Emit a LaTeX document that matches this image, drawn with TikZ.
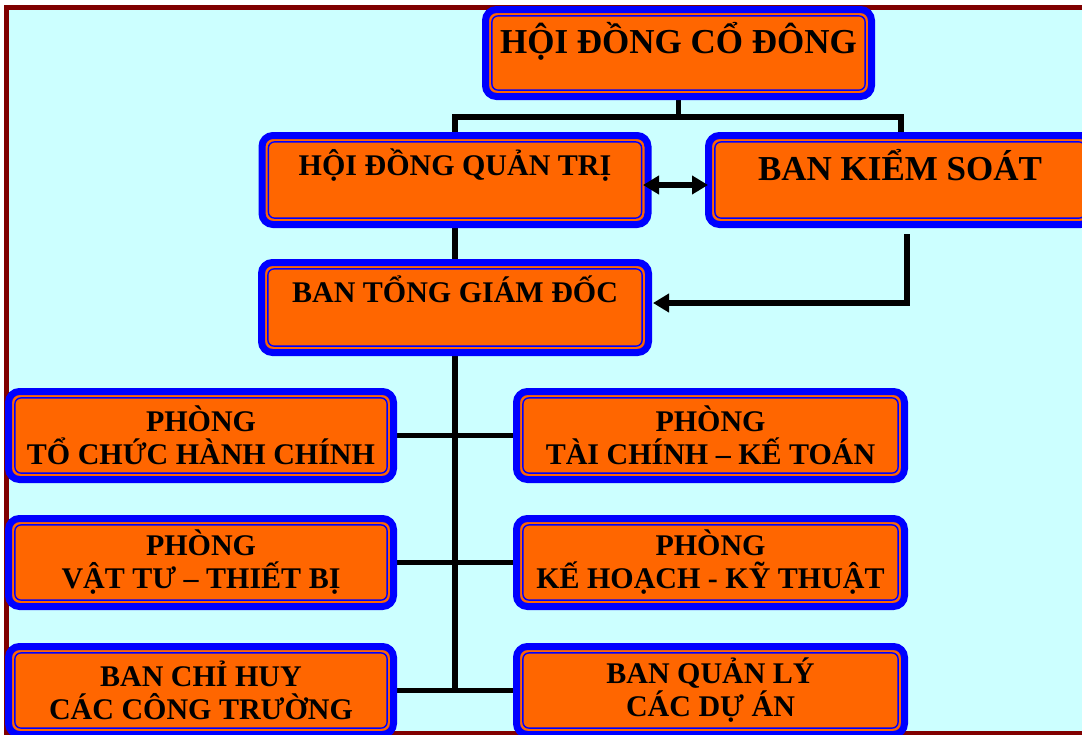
\documentclass[tikz,border=0pt]{standalone}
\usepackage{fontspec}
\setmainfont{Liberation Serif}
\usetikzlibrary{arrows.meta}
\definecolor{bgcyan}{HTML}{CCFFFF}
\definecolor{framered}{HTML}{800000}
\definecolor{boxorange}{HTML}{FF6600}
\definecolor{boxblue}{HTML}{0000FF}
\pgfdeclarelayer{bg}
\pgfdeclarelayer{fr}
\pgfsetlayers{fr,bg,main}
\tikzset{
  orgbox/.style={draw=boxblue, line width=7pt, fill=boxorange, rounded corners=11pt,
    inner sep=0pt, align=center, font=\bfseries\fontsize{30}{33}\selectfont,
    path picture={\draw[boxblue, line width=1.4pt, rounded corners=6pt]
      ([shift={(6.4pt,6.4pt)}]path picture bounding box.south west) rectangle
      ([shift={(-6.4pt,-6.4pt)}]path picture bounding box.north east);}},
  topbox/.style={orgbox, minimum width=386pt, minimum height=88pt},
  leftbox/.style={orgbox, minimum width=385pt, minimum height=88pt},
  rightbox/.style={orgbox, minimum width=388pt, minimum height=88pt},
  conn/.style={draw=black, line width=5.5pt, line join=miter},
  arr/.style={conn, -{Triangle[length=16pt,width=18pt]}},
  darr/.style={conn, {Triangle[length=16pt,width=18pt]}-{Triangle[length=16pt,width=18pt]}}
}
\begin{document}
\begin{tikzpicture}[x=1pt,y=-1pt]
\useasboundingbox (0,0) rectangle (1082,734);
\begin{pgfonlayer}{fr}
\fill[white] (0,0) rectangle (1082,734);
\draw[framered, line width=5pt, fill=bgcyan] (6.5,7.3) rectangle (1095,733);
\end{pgfonlayer}

% named junction coordinates
\coordinate (jR) at (901,117);
\coordinate (bksOut) at (907,234);
\coordinate (btgdIn) at (653,303);
\coordinate (qtL) at (643,185);
\coordinate (ksR) at (708,185);

\node[topbox, minimum height=87pt, font=\bfseries\fontsize{35}{40}\selectfont,
      text height=24pt, text depth=24pt] (hdcd) at (678.5,53) {HỘI ĐỒNG CỔ ĐÔNG};
\node[topbox, minimum height=89pt, text height=20pt, text depth=30pt] (hdqt) at (455,180) {HỘI ĐỒNG QUẢN TRỊ};
\node[topbox, minimum width=383pt, minimum height=89pt, font=\bfseries\fontsize{35}{40}\selectfont,
      text height=25pt, text depth=25pt] (bks) at (900,180) {BAN KIỂM SOÁT};
\node[topbox, minimum width=387pt, minimum height=90pt, text height=20pt, text depth=31pt] (btgd) at (455,307.5) {BAN TỔNG GIÁM ĐỐC};

\node[leftbox] (l1) at (201,435.5) {PHÒNG\\TỔ CHỨC HÀNH CHÍNH};
\node[rightbox] (r1) at (710.5,435.5) {PHÒNG\\TÀI CHÍNH – KẾ TOÁN};
\node[leftbox] (l2) at (201,562.5) {PHÒNG\\VẬT TƯ – THIẾT BỊ};
\node[rightbox] (r2) at (710.5,562.5) {PHÒNG\\KẾ HOẠCH - KỸ THUẬT};
\node[leftbox] (l3) at (201,690.5) {BAN CHỈ HUY\\CÁC CÔNG TRƯỜNG};
\node[rightbox] (r3) at (710.5,690.5) {BAN QUẢN LÝ\\CÁC DỰ ÁN};

% plain connectors behind boxes
\begin{pgfonlayer}{bg}
\draw[conn] (hdqt.north) |- (jR) -- (jR |- bks.north);
\draw[conn] (hdcd.south) -- (hdcd.south |- jR);
\draw[conn] (hdqt.south) -- (btgd.north);
\draw[conn] (btgd.south) -- (btgd.south |- l3.east);
\draw[conn] (l1.east) -- (r1.west);
\draw[conn] (l2.east) -- (r2.west);
\draw[conn] (l3.east) -- (r3.west);
\end{pgfonlayer}

% arrows on top
\draw[darr] (qtL) -- (ksR);
\draw[arr] (bksOut) |- (btgdIn);
\end{tikzpicture}
\end{document}
